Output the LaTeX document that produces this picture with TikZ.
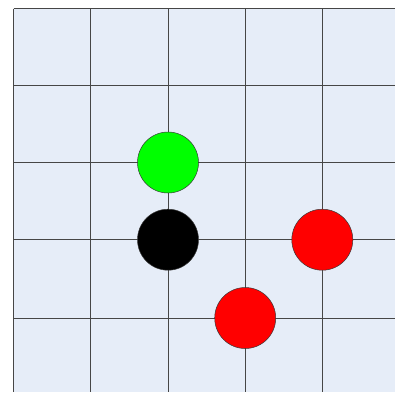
\documentclass[tikz,border=0pt]{standalone}
\usetikzlibrary{positioning}
\definecolor{board}{RGB}{230,237,248}
\definecolor{gridgray}{RGB}{70,70,70}
\definecolor{stonegreen}{RGB}{0,255,0}
\definecolor{stonered}{RGB}{255,0,0}
\tikzset{
  gridline/.style={draw=gridgray,line width=0.9pt},
  stone/.style={circle,draw=gridgray!80!black,line width=0.5pt,minimum size=61pt,inner sep=0pt}
}
\begin{document}
\begin{tikzpicture}[x=1pt,y=-1pt]
\useasboundingbox (0,0) rectangle (395,392);
\fill[board] (13.5,8.5) rectangle (395,392);
% board lines
\foreach \x in {13.5,90.7,168,245.2,322.3}
  \draw[gridline] (\x,8.5) -- (\x,392);
\foreach \y in {8.5,85.5,162.5,239.7,318}
  \draw[gridline] (13.5,\y) -- (395,\y);
% stones
\node[stone,fill=stonegreen] (green) at (168,162.5) {};
\node[stone,fill=black] (black) at (168,239.7) {};
\node[stone,fill=stonered] (redright) at (322.3,239.7) {};
\node[stone,fill=stonered] (redlow) at (245.2,318) {};
\end{tikzpicture}
\end{document}
